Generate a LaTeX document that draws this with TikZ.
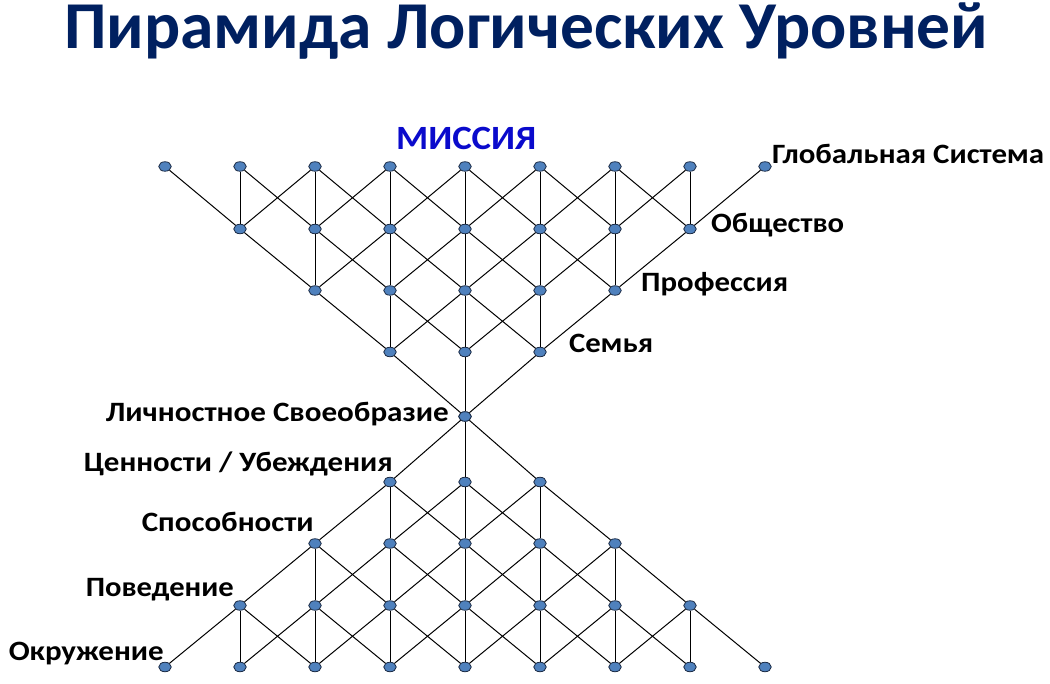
\documentclass[tikz,border=0pt]{standalone}
\usepackage{fontspec}
\usepackage{graphicx}
\setmainfont{Carlito}
\usetikzlibrary{shapes.geometric}
\definecolor{navy}{HTML}{002060}
\definecolor{missblue}{HTML}{0A0ACC}
\definecolor{dotfill}{HTML}{4F81BD}
\definecolor{dotline}{HTML}{1A2A44}
\newcommand\fitw[2]{\resizebox{#1pt}{\height}{#2}}
\begin{document}
\begin{tikzpicture}[x=1pt,y=-1pt,
  dot/.style={ellipse,draw=dotline,line width=0.8pt,fill=dotfill,minimum width=12.5pt,minimum height=9.5pt,inner sep=0pt},
  link/.style={line width=1pt,black},
  lbl/.style={font=\bfseries\fontsize{28}{28}\selectfont,inner sep=0pt,text=black},
  ttl/.style={font=\bfseries\fontsize{67}{67}\selectfont,inner sep=0pt,text=navy},
  miss/.style={font=\bfseries\fontsize{34}{34}\selectfont,inner sep=0pt,text=missblue}]
\useasboundingbox (0,0) rectangle (1050,684);
\fill[white] (0,0) rectangle (1050,684);
% ---- upper fan: rows t0 (centre) .. t4 (top)
\foreach \r/\y in {0/416.5,1/352,2/290.5,3/229,4/166.5}{
  \pgfmathtruncatemacro\lo{4-\r}\pgfmathtruncatemacro\hi{4+\r}
  \foreach \j in {\lo,...,\hi}{
    \node[dot] (t\r c\j) at ({465+75*(\j-4)},\y) {};
  }
}
% ---- lower fan: rows b1 .. b4 (b0 = centre)
\foreach \r/\y in {1/482,2/543.5,3/605.5,4/667}{
  \pgfmathtruncatemacro\lo{4-\r}\pgfmathtruncatemacro\hi{4+\r}
  \foreach \j in {\lo,...,\hi}{
    \node[dot] (b\r c\j) at ({465+75*(\j-4)},\y) {};
  }
}
\node[dot,alias=b0c4] at (t0c4) {};
% ---- connectors
\foreach \s in {t,b}{
  \foreach \r in {1,...,4}{
    \pgfmathtruncatemacro\lo{4-\r}\pgfmathtruncatemacro\hi{4+\r}
    \pgfmathtruncatemacro\q{\r-1}
    \foreach \j in {\lo,...,\hi}{
      \foreach \d in {-1,0,1}{
        \pgfmathtruncatemacro\k{\j+\d}
        \pgfmathtruncatemacro\a{abs(\k-4)}
        \ifnum\a>\q\relax\else
          \draw[link] (\s\r c\j) -- (\s\q c\k);
        \fi
      }
    }
  }
}
% ---- texts
\node[ttl,anchor=base west] (title) at (64,49) {\fitw{924}{Пирамида Логических Уровней}};
\node[miss,anchor=base west] (mission) at (396,150) {\fitw{140}{МИССИЯ}};
\node[lbl,anchor=base west] (glob) at (772,164) {\fitw{272}{Глобальная Система}};
\node[lbl,anchor=base west] (obsch) at (711,232.7) {\fitw{133}{Общество}};
\node[lbl,anchor=base west] (prof) at (641,291.7) {\fitw{147}{Профессия}};
\node[lbl,anchor=base west] (sem) at (569,353) {\fitw{84}{Семья}};
\node[lbl,anchor=base east] (lichn) at (449,422) {\fitw{343}{Личностное Своеобразие}};
\node[lbl,anchor=base east] (cenn) at (393,471.7) {\fitw{309}{Ценности / Убеждения}};
\node[lbl,anchor=base east] (spos) at (314,531.7) {\fitw{172}{Способности}};
\node[lbl,anchor=base east] (pov) at (234,596.7) {\fitw{148}{Поведение}};
\node[lbl,anchor=base east] (okr) at (164,660) {\fitw{155}{Окружение}};
\end{tikzpicture}
\end{document}
